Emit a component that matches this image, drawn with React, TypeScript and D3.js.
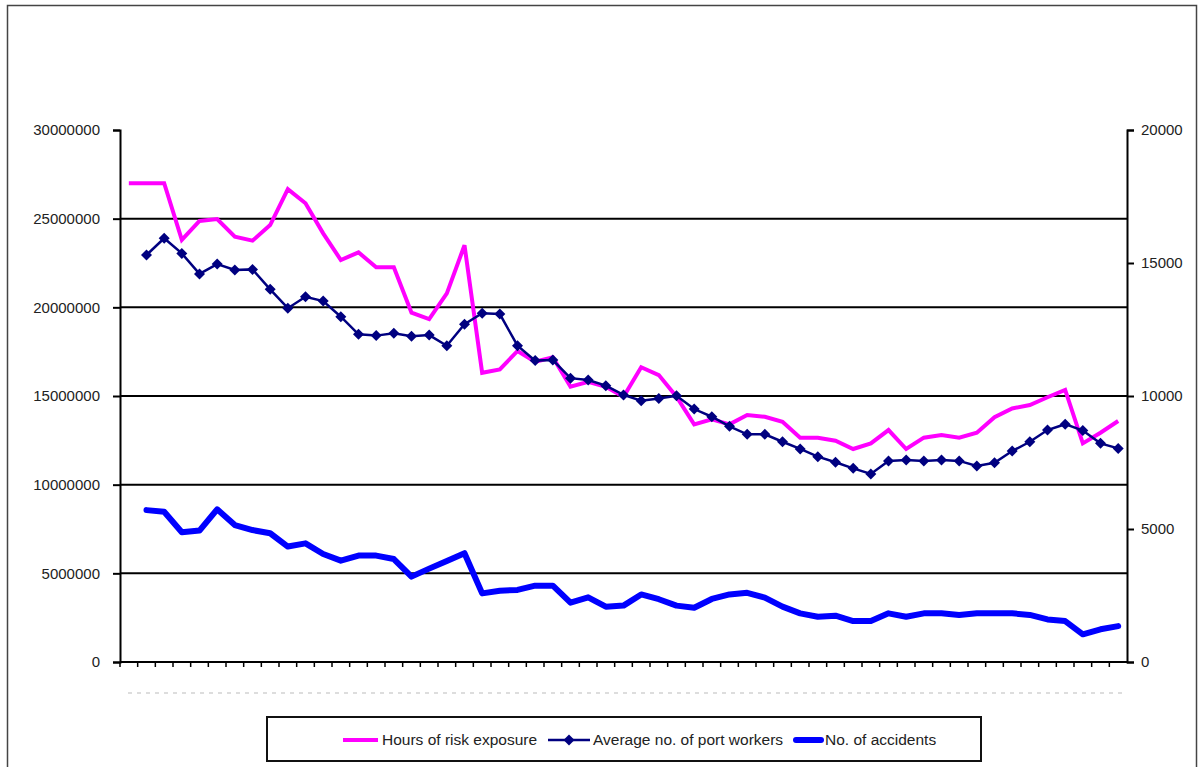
import React, { useRef, useEffect } from 'react';
import * as d3 from 'd3';

// one category per period, labels are not printed on the chart
const categories: number[] = d3.range(57);

// Hours of risk exposure (left axis), periods 0..56
const hoursOfExposure: (number | null)[] = [
  27000000, 27000000, 27000000, 23800000, 24870000, 24980000, 23980000, 23760000,
  24640000, 26660000, 25870000, 24170000, 22670000, 23100000, 22260000, 22260000,
  19700000, 19340000, 20790000, 23500000, 16310000, 16500000, 17540000, 16930000,
  17180000, 15520000, 15800000, 15520000, 14960000, 16620000, 16180000, 14960000,
  13400000, 13690000, 13400000, 13930000, 13830000, 13550000, 12650000, 12650000,
  12480000, 12010000, 12330000, 13080000, 12010000, 12650000, 12800000, 12650000,
  12930000, 13800000, 14300000, 14490000, 14930000, 15340000, 12330000, 12930000,
  13590000,
];

// Average no. of port workers (right axis)
const portWorkers: (number | null)[] = [
  null, 15300, 15930, 15360, 14590, 14960, 14740, 14760, 14010, 13300, 13730, 13570,
  12980, 12320, 12270, 12360, 12250, 12290, 11890, 12700, 13110, 13080, 11890, 11330,
  11350, 10670, 10600, 10390, 10040, 9820, 9910, 10010, 9510, 9220, 8860, 8560,
  8560, 8280, 8010, 7720, 7510, 7280, 7070, 7560, 7590, 7560, 7590, 7560,
  7370, 7490, 7930, 8280, 8720, 8940, 8700, 8220, 8030,
];

// No. of accidents (right axis)
const accidents: (number | null)[] = [
  null, 5710, 5650, 4875, 4940, 5740, 5150, 4960, 4840, 4340, 4460, 4060,
  3810, 4000, 4000, 3870, 3210, 3510, 3800, 4090, 2580, 2680, 2710, 2870,
  2870, 2230, 2430, 2080, 2120, 2540, 2360, 2120, 2040, 2370, 2540, 2600,
  2420, 2080, 1830, 1700, 1740, 1540, 1540, 1830, 1700, 1830, 1830, 1770,
  1830, 1830, 1830, 1770, 1600, 1540, 1040, 1230, 1350,
];

const leftTicks = [0, 5000000, 10000000, 15000000, 20000000, 25000000, 30000000];
const rightTicks = [0, 5000, 10000, 15000, 20000];
const legendLabels = ['Hours of risk exposure', 'Average no. of port workers', 'No. of accidents'];

const FONT = '"Liberation Sans", Arial, sans-serif';
const diamond = 'M0,-5.5L5.5,0L0,5.5L-5.5,0Z';

function App() {
  const svgRef = useRef<SVGSVGElement>(null);

  useEffect(() => {
    const width = 1200;
    const height = 767;
    const left = 120;
    const right = 1127;
    const top = 130;
    const bottom = 662;

    const svg = d3.select(svgRef.current);
    svg.selectAll('*').remove();
    svg.attr('width', width).attr('height', height).style('font-family', FONT);

    svg.append('rect').attr('width', width).attr('height', height).attr('fill', '#fff');

    // cadre exterieur
    svg.append('rect')
      .attr('x', 7.5).attr('y', 5.5)
      .attr('width', 1189).attr('height', 780)
      .attr('fill', 'none').attr('stroke', '#444').attr('stroke-width', 1.5);

    const x = d3.scaleBand<number>().domain(categories).range([left, right]);
    const cx = (i: number) => (x(i) as number) + x.bandwidth() / 2;
    const yL = d3.scaleLinear().domain([0, 30000000]).range([bottom, top]);
    const yR = d3.scaleLinear().domain([0, 20000]).range([bottom, top]);

    // grille horizontale
    svg.append('g')
      .selectAll('line')
      .data(leftTicks.filter(t => t > 0 && t < 30000000))
      .join('line')
      .attr('x1', left).attr('x2', right)
      .attr('y1', d => yL(d)).attr('y2', d => yL(d))
      .attr('stroke', '#000').attr('stroke-width', 2);

    // axe gauche
    const axL = svg.append('g').attr('transform', `translate(${left},0)`)
      .call(d3.axisLeft(yL).tickValues(leftTicks).tickSize(7).tickPadding(13).tickFormat(d => String(d)));
    // axe droit
    const axR = svg.append('g').attr('transform', `translate(${right},0)`)
      .call(d3.axisRight(yR).tickValues(rightTicks).tickSize(7).tickPadding(7).tickFormat(d => String(d)));
    [axL, axR].forEach(ax => {
      ax.select('.domain').attr('stroke', '#000').attr('stroke-width', 2);
      ax.selectAll('.tick line').attr('stroke', '#000').attr('stroke-width', 2);
      ax.selectAll('.tick text').attr('fill', '#222').style('font-size', '15px').style('font-family', FONT);
    });

    // axe des x : traits aux limites des categories
    svg.append('line')
      .attr('x1', left).attr('x2', right).attr('y1', bottom).attr('y2', bottom)
      .attr('stroke', '#000').attr('stroke-width', 2);
    svg.append('g')
      .selectAll('line')
      .data(categories)
      .join('line')
      .attr('x1', d => x(d) as number).attr('x2', d => x(d) as number)
      .attr('y1', bottom).attr('y2', bottom + 5)
      .attr('stroke', '#000').attr('stroke-width', 1.5);

    // ligne pointillee sous l'axe (etiquettes vides)
    svg.append('line')
      .attr('x1', left + 8).attr('x2', right)
      .attr('y1', 693).attr('y2', 693)
      .attr('stroke', '#bbb').attr('stroke-width', 1)
      .attr('stroke-dasharray', '4,5');

    const lineOf = (yScale: d3.ScaleLinear<number, number>) =>
      d3.line<number | null>()
        .defined(d => d !== null)
        .x((d, i) => cx(i))
        .y(d => yScale(d as number));

    svg.append('path')
      .datum(accidents)
      .attr('d', lineOf(yR))
      .attr('fill', 'none').attr('stroke', '#0000ff')
      .attr('stroke-width', 6).attr('stroke-linejoin', 'round').attr('stroke-linecap', 'round');

    svg.append('path')
      .datum(hoursOfExposure)
      .attr('d', lineOf(yL))
      .attr('fill', 'none').attr('stroke', '#ff00ff')
      .attr('stroke-width', 4).attr('stroke-linejoin', 'miter');

    svg.append('path')
      .datum(portWorkers)
      .attr('d', lineOf(yR))
      .attr('fill', 'none').attr('stroke', '#000080')
      .attr('stroke-width', 2.5);

    svg.append('g')
      .selectAll('path')
      .data(portWorkers.map((v, i) => ({ v, i })).filter(d => d.v !== null))
      .join('path')
      .attr('d', diamond)
      .attr('transform', d => `translate(${cx(d.i)},${yR(d.v as number)})`)
      .attr('fill', '#000080');

    // legende
    const lg = svg.append('g');
    lg.append('rect')
      .attr('x', 267).attr('y', 717).attr('width', 714).attr('height', 44)
      .attr('fill', '#fff').attr('stroke', '#111').attr('stroke-width', 2);
    const ly = 740;
    lg.append('line').attr('x1', 343).attr('x2', 378).attr('y1', ly).attr('y2', ly)
      .attr('stroke', '#ff00ff').attr('stroke-width', 4);
    lg.append('line').attr('x1', 548).attr('x2', 590).attr('y1', ly).attr('y2', ly)
      .attr('stroke', '#000080').attr('stroke-width', 2.5);
    lg.append('path').attr('d', diamond).attr('transform', `translate(569,${ly})`).attr('fill', '#000080');
    lg.append('line').attr('x1', 796).attr('x2', 821).attr('y1', ly).attr('y2', ly)
      .attr('stroke', '#0000ff').attr('stroke-width', 6).attr('stroke-linecap', 'round');
    const textX = [382, 593, 825];
    legendLabels.forEach((t, i) => {
      lg.append('text')
        .attr('x', textX[i]).attr('y', ly).attr('dy', '0.35em')
        .attr('fill', '#222').style('font-size', '15.5px')
        .text(t);
    });
  }, []);

  return (
    <div style={{ position: 'absolute', left: 0, top: 0 }}>
      <svg ref={svgRef}></svg>
    </div>
  );
}

export default App;
